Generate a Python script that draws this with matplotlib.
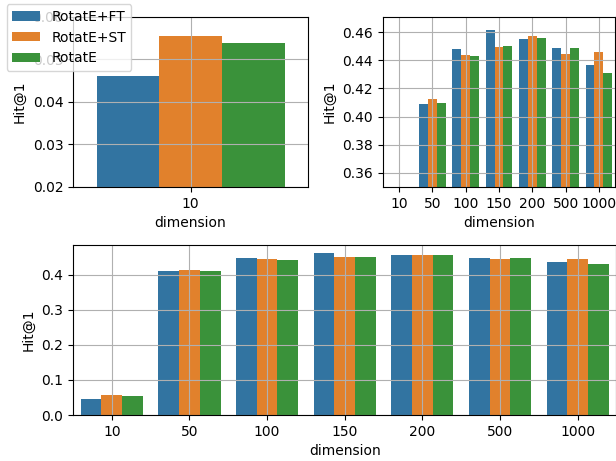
import numpy as np
import matplotlib
matplotlib.use("Agg")
import matplotlib.pyplot as plt

dimensions = ["10", "50", "100", "150", "200", "500", "1000"]
series_names = ["RotatE+FT", "RotatE+ST", "RotatE"]
hit_ft = [0.0462, 0.4093, 0.4478, 0.4616, 0.4553, 0.4485, 0.4368]
hit_st = [0.0556, 0.4123, 0.4438, 0.4492, 0.4570, 0.4445, 0.4459]
hit_rotate = [0.0539, 0.4100, 0.4429, 0.4499, 0.4560, 0.4485, 0.4311]
colors = ["#3274a1", "#e1812c", "#3a923a"]

W, H = 616, 461
fig = plt.figure(figsize=(W / 100, H / 100), dpi=100)

def ax_at(l, t, r, b):
    return fig.add_axes([l / W, 1 - b / H, (r - l) / W, (b - t) / H])

ax1 = ax_at(73, 17, 308, 187)
ax2 = ax_at(382.5, 17, 615.5, 187)
ax3 = ax_at(73, 245, 616.5, 415)

all_series = [hit_ft, hit_st, hit_rotate]
width = 0.8 / 3

def draw(ax, n):
    x = np.arange(n)
    handles = []
    for i, (vals, c) in enumerate(zip(all_series, colors)):
        h = ax.bar(x + (i - 1) * width, vals[:n], width=width, color=c,
                   label=series_names[i])
        handles.append(h)
    ax.set_xticks(x)
    ax.set_xticklabels(dimensions[:n])
    ax.set_xlim(-0.5, n - 0.5)
    ax.grid(True, color="#b0b0b0", linewidth=0.8)
    ax.set_xlabel("dimension")
    ax.set_ylabel("Hit@1")
    return handles

handles = draw(ax1, 1)
ax1.set_ylim(0.02, 0.06)
ax1.set_yticks([0.02, 0.03, 0.04, 0.05, 0.06])

draw(ax2, 7)
ax2.set_ylim(0.35, 0.4708)
ax2.set_yticks([0.36, 0.38, 0.40, 0.42, 0.44, 0.46])

draw(ax3, 7)
ax3.set_ylim(0.0, 0.4847)
ax3.set_yticks([0.0, 0.1, 0.2, 0.3, 0.4])

fig.legend(handles, series_names, loc="upper left",
           bbox_to_anchor=(6.7 / W, 1 - 4 / H), borderaxespad=0)

fig.savefig("out.png", dpi=100)
